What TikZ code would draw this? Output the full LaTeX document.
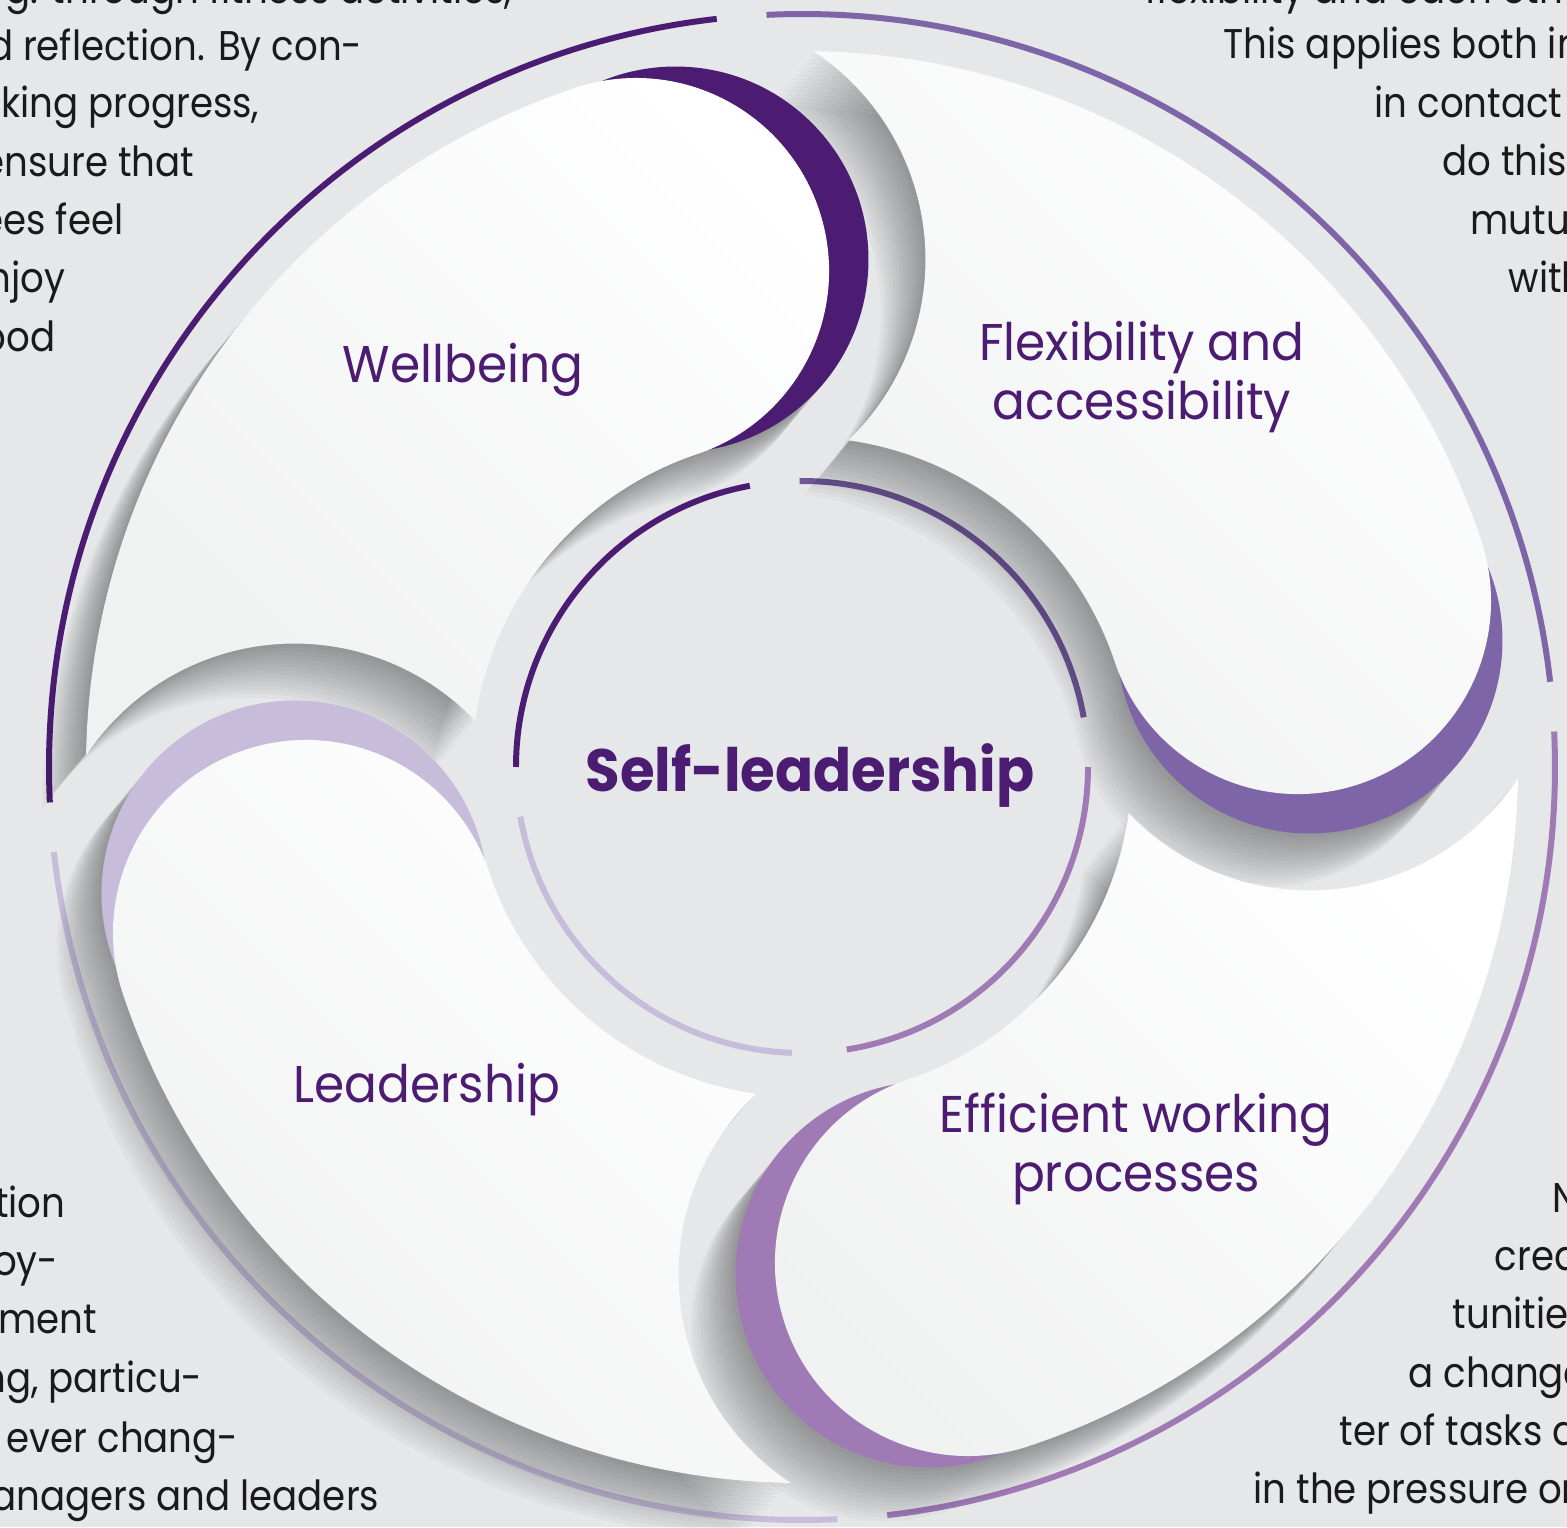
\documentclass[tikz,border=0pt]{standalone}
\usepackage{fontspec}
\setmainfont{Poppins}[FakeStretch=0.94]
\newfontfamily\bodyfont{Poppins}[FakeStretch=0.895]
\definecolor{bg}{HTML}{E6E7E9}
\definecolor{pdark}{HTML}{4B1C72}
\definecolor{pmed}{HTML}{7E65A7}
\definecolor{pinmed}{HTML}{6E5796}
\definecolor{plight}{HTML}{A07AB5}
\definecolor{plav}{HTML}{C7BCDA}
\definecolor{pw}{HTML}{F0F1F1}
\definecolor{bodytext}{HTML}{1A1A1A}
\begin{document}
\begin{tikzpicture}[x=0.01cm,y=0.01cm,
  ring/.style={line width=1.7pt},
  petal/.style={insert path={(#1:716) arc[start angle=#1, end angle=#1+70.58, radius=716]
     arc[start angle=#1+37.99, end angle=#1-64.79, radius=250]
     arc[start angle=#1+63.45, end angle=#1, radius=330]
     arc[start angle=#1+180, end angle=#1+360, radius=193] -- cycle}},
  crescent/.style={insert path={(#1-4.5:523) ++(193,0) arc[start angle=0, end angle=360, radius=193] -- cycle}},
  petalfill/.style={top color=white, bottom color=pw, shading angle=-45},
  label/.style={text=pdark, font=\fontsize{14.7}{17}\selectfont, inner sep=0pt},
  title/.style={text=pdark, font=\fontsize{17}{20}\bfseries\selectfont, inner sep=0pt},
  body/.style={text=bodytext, font=\bodyfont\fontsize{11.8}{14}\selectfont, inner sep=0pt}
]
\useasboundingbox (-802,-760) rectangle (765,767);
\clip (-802,-760) rectangle (765,767);
\fill[bg] (-802,-760) rectangle (765,767);

% outer ring arcs
\draw[ring, pmed]   (6.5:753)   arc[start angle=6.5,   end angle=92.7,  radius=753];
\draw[ring, pdark]  (96.5:753)  arc[start angle=96.5,  end angle=182.7, radius=753];
\draw[ring, plav]   (186.5:753) arc[start angle=186.5, end angle=272.7, radius=753];
\draw[ring, plight] (276.5:753) arc[start angle=276.5, end angle=362.7, radius=753];
% inner ring arcs
\draw[ring, pinmed] (10:286)  arc[start angle=10,  end angle=90.5, radius=286];
\draw[ring, pdark]  (100.5:286) arc[start angle=100.5, end angle=180, radius=286];
\draw[ring, plav]   (190:286) arc[start angle=190, end angle=268, radius=286];
\draw[ring, plight] (279:286) arc[start angle=279, end angle=360, radius=286];

% shadows
\foreach \h in {18.5,108.5,198.5,288.5}{
  \foreach \i in {1,...,14}{
    \fill[black, opacity=0.027, shift={(-3.19*\i,-3.85*\i)}, petal=\h, crescent=\h];
  }
}
% crescents
\fill[pmed, crescent=18.5];
\fill[pdark, crescent=108.5];
\fill[plav, crescent=198.5];
\fill[plight, crescent=288.5];
% petals
\path[petalfill, petal=18.5];
\path[petalfill, petal=108.5];
\path[petalfill, petal=198.5];
\path[petalfill, petal=288.5];

% labels
\node[label, anchor=base] (wb) at (-339,384) {Wellbeing};
\node[label, anchor=base] (fa1) at (340,406) {Flexibility and};
\node[label, anchor=base] (fa2) at (340,347) {accessibility};
\node[label, anchor=base] (ld) at (-375,-335) {Leadership};
\node[label, anchor=base] (ew1) at (334,-365) {Efficient working};
\node[label, anchor=base] (ew2) at (334,-424) {processes};
\node[title, anchor=base] (sl) at (8,-24) {Self-leadership};

% body text fragments
\node[body, anchor=base east] (tl1) at (-289,763) {g. through fitness activities,};
\node[body, anchor=base east] (tl2) at (-439,706) {d reflection. By con-};
\node[body, anchor=base east] (tl3) at (-542,649) {king progress,};
\node[body, anchor=base east] (tl4) at (-607,590) {ensure that};
\node[body, anchor=base east] (tl5) at (-678,532) {ees feel};
\node[body, anchor=base east] (tl6) at (-736,474) {njoy};
\node[body, anchor=base east] (tl7) at (-746,415) {ood};

\node[body, anchor=base west] (tr1) at (343,763) {flexibility and each other};
\node[body, anchor=base west] (tr2) at (421,708) {This applies both in};
\node[body, anchor=base west] (tr3) at (572,649) {in contact with};
\node[body, anchor=base west] (tr4) at (640,591) {do this};
\node[body, anchor=base west] (tr5) at (668,532) {mutual};
\node[body, anchor=base west] (tr6) at (706,474) {with};

\node[body, anchor=base east] (bl1) at (-736,-450) {tion};
\node[body, anchor=base east] (bl2) at (-743,-508) {oy-};
\node[body, anchor=base east] (bl3) at (-704,-566) {oment};
\node[body, anchor=base east] (bl4) at (-599,-625) {ng, particu-};
\node[body, anchor=base east] (bl5) at (-563,-685) {e ever chang-};
\node[body, anchor=base east] (bl6) at (-422,-743) {anagers and leaders};

\node[body, anchor=base west] (br1) at (750,-445) {N};
\node[body, anchor=base west] (br2) at (692,-503) {crea};
\node[body, anchor=base west] (br3) at (650,-561) {tunities};
\node[body, anchor=base west] (br4) at (606,-620) {a change};
\node[body, anchor=base west] (br5) at (537,-678) {ter of tasks and};
\node[body, anchor=base west] (br6) at (451,-736) {in the pressure on};
\end{tikzpicture}
\end{document}
